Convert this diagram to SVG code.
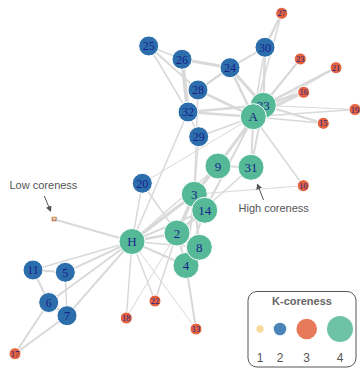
<svg xmlns="http://www.w3.org/2000/svg" width="360" height="370" viewBox="0 0 360 370">
  <style>
    .edges line { stroke: #d9d9d9; stroke-linecap: round; }
    .node circle { stroke: #ffffff; stroke-width: 1; }
    .k1 { fill: #f6d38b; }
    .k2 { fill: #2c6eab; }
    .k3 { fill: #e4633f; }
    .k4 { fill: #55b897; }
    .node text { font-family: "Liberation Serif", "Times New Roman", serif; fill: #1a1f8a; text-anchor: middle; }
    .big text { font-size: 13px; }
    .mid text { font-size: 12px; }
    .small text { font-size: 8.5px; }
    .tiny circle { stroke: none; }
    .tiny text { font-size: 6px; fill: #5a2a9a; }
    .note { font-family: "Liberation Sans", Arial, sans-serif; font-size: 11px; fill: #555555; }
    .pointer { stroke: #555555; stroke-width: 1; fill: none; marker-end: url(#tip); }
    .legend-title { font-family: "Liberation Sans", Arial, sans-serif; font-size: 11px; font-weight: bold; fill: #666666; text-anchor: middle; }
    .legend-num { font-family: "Liberation Sans", Arial, sans-serif; font-size: 12px; fill: #555555; text-anchor: middle; }
    .swatch { opacity: 0.85; }
  </style>
  <defs>
    <marker id="tip" viewBox="0 0 10 10" refX="8" refY="5" markerWidth="6" markerHeight="6" orient="auto" markerUnits="userSpaceOnUse">
      <path d="M0,0 L10,5 L0,10 z" fill="#555555"/>
    </marker>
  </defs>

  <rect width="360" height="370" fill="#ffffff"/>

  <!-- connectors, width scaled by tie strength -->
  <g id="connectors" class="edges">
    <!-- H -->
    <line x1="132" y1="241.5" x2="177" y2="233" stroke-width="2.5"/>
    <line x1="132" y1="241.5" x2="194.3" y2="194.3" stroke-width="3"/>
    <line x1="132" y1="241.5" x2="186" y2="265.5" stroke-width="2"/>
    <line x1="132" y1="241.5" x2="65.3" y2="272.3" stroke-width="2"/>
    <line x1="132" y1="241.5" x2="48.7" y2="302.5" stroke-width="2"/>
    <line x1="132" y1="241.5" x2="67" y2="315.7" stroke-width="2"/>
    <line x1="132" y1="241.5" x2="199.3" y2="247.3" stroke-width="1.5"/>
    <line x1="132" y1="241.5" x2="218" y2="166" stroke-width="1.5"/>
    <line x1="132" y1="241.5" x2="33" y2="270" stroke-width="1.5"/>
    <line x1="132" y1="241.5" x2="53.7" y2="219.3" stroke-width="2"/>
    <line x1="132" y1="241.5" x2="196" y2="329" stroke-width="1"/>
    <line x1="132" y1="241.5" x2="204.7" y2="210.3" stroke-width="2"/>
    <line x1="132" y1="241.5" x2="126.3" y2="318" stroke-width="1.5"/>
    <line x1="132" y1="241.5" x2="142.3" y2="183.3" stroke-width="1.5"/>
    <line x1="132" y1="241.5" x2="155" y2="301" stroke-width="1.5"/>
    <line x1="132" y1="241.5" x2="188" y2="112" stroke-width="1.5"/>
    <!-- 2 -->
    <line x1="177" y1="233" x2="194.3" y2="194.3" stroke-width="3.5"/>
    <line x1="177" y1="233" x2="186" y2="265.5" stroke-width="2"/>
    <line x1="177" y1="233" x2="199.3" y2="247.3" stroke-width="2.5"/>
    <line x1="177" y1="233" x2="204.7" y2="210.3" stroke-width="3"/>
    <line x1="177" y1="233" x2="126.3" y2="318" stroke-width="1"/>
    <line x1="177" y1="233" x2="142.3" y2="183.3" stroke-width="1.5"/>
    <line x1="177" y1="233" x2="155" y2="301" stroke-width="1.5"/>
    <line x1="177" y1="233" x2="251" y2="167.3" stroke-width="1.5"/>
    <!-- 3 -->
    <line x1="194.3" y1="194.3" x2="186" y2="265.5" stroke-width="2"/>
    <line x1="194.3" y1="194.3" x2="199.3" y2="247.3" stroke-width="2.5"/>
    <line x1="194.3" y1="194.3" x2="218" y2="166" stroke-width="3"/>
    <line x1="194.3" y1="194.3" x2="303.3" y2="185.7" stroke-width="1"/>
    <line x1="194.3" y1="194.3" x2="204.7" y2="210.3" stroke-width="2"/>
    <line x1="194.3" y1="194.3" x2="198" y2="90" stroke-width="1.5"/>
    <line x1="194.3" y1="194.3" x2="198.7" y2="136.7" stroke-width="1.5"/>
    <line x1="194.3" y1="194.3" x2="263.3" y2="105.3" stroke-width="1.5"/>
    <!-- 4 -->
    <line x1="186" y1="265.5" x2="199.3" y2="247.3" stroke-width="2"/>
    <line x1="186" y1="265.5" x2="196" y2="329" stroke-width="2"/>
    <line x1="186" y1="265.5" x2="204.7" y2="210.3" stroke-width="2"/>
    <!-- 5, 6, 7 -->
    <line x1="65.3" y1="272.3" x2="67" y2="315.7" stroke-width="1.5"/>
    <line x1="65.3" y1="272.3" x2="33" y2="270" stroke-width="2"/>
    <line x1="48.7" y1="302.5" x2="67" y2="315.7" stroke-width="3"/>
    <line x1="48.7" y1="302.5" x2="33" y2="270" stroke-width="2"/>
    <line x1="48.7" y1="302.5" x2="15" y2="353.7" stroke-width="2"/>
    <line x1="67" y1="315.7" x2="15" y2="353.7" stroke-width="2"/>
    <!-- 9, 10, 14 -->
    <line x1="218" y1="166" x2="251" y2="167.3" stroke-width="2"/>
    <line x1="218" y1="166" x2="263.3" y2="105.3" stroke-width="2"/>
    <line x1="218" y1="166" x2="253.3" y2="116.7" stroke-width="2.5"/>
    <line x1="303.3" y1="185.7" x2="253.3" y2="116.7" stroke-width="1.5"/>
    <line x1="204.7" y1="210.3" x2="253.3" y2="116.7" stroke-width="2"/>
    <!-- peripheral supporters of A and 33 -->
    <line x1="323.3" y1="123.3" x2="263.3" y2="105.3" stroke-width="2"/>
    <line x1="323.3" y1="123.3" x2="253.3" y2="116.7" stroke-width="1.5"/>
    <line x1="303.7" y1="92.3" x2="263.3" y2="105.3" stroke-width="2.5"/>
    <line x1="303.7" y1="92.3" x2="253.3" y2="116.7" stroke-width="3"/>
    <line x1="355" y1="109.5" x2="263.3" y2="105.3" stroke-width="1"/>
    <line x1="355" y1="109.5" x2="253.3" y2="116.7" stroke-width="1.5"/>
    <line x1="142.3" y1="183.3" x2="253.3" y2="116.7" stroke-width="1"/>
    <line x1="336" y1="67.7" x2="263.3" y2="105.3" stroke-width="2.5"/>
    <line x1="336" y1="67.7" x2="253.3" y2="116.7" stroke-width="1"/>
    <line x1="300.3" y1="59" x2="263.3" y2="105.3" stroke-width="1.5"/>
    <line x1="300.3" y1="59" x2="253.3" y2="116.7" stroke-width="2"/>
    <!-- 24 .. 33 -->
    <line x1="230" y1="67.7" x2="182" y2="59.3" stroke-width="3"/>
    <line x1="230" y1="67.7" x2="198" y2="90" stroke-width="2.5"/>
    <line x1="230" y1="67.7" x2="265" y2="47.3" stroke-width="2"/>
    <line x1="230" y1="67.7" x2="263.3" y2="105.3" stroke-width="3"/>
    <line x1="230" y1="67.7" x2="253.3" y2="116.7" stroke-width="2.5"/>
    <line x1="148.7" y1="46" x2="182" y2="59.3" stroke-width="1.5"/>
    <line x1="148.7" y1="46" x2="198" y2="90" stroke-width="2"/>
    <line x1="148.7" y1="46" x2="188" y2="112" stroke-width="1.5"/>
    <line x1="182" y1="59.3" x2="188" y2="112" stroke-width="4"/>
    <line x1="281.7" y1="13.3" x2="265" y2="47.3" stroke-width="2.5"/>
    <line x1="281.7" y1="13.3" x2="253.3" y2="116.7" stroke-width="1.5"/>
    <line x1="198" y1="90" x2="253.3" y2="116.7" stroke-width="2.5"/>
    <line x1="198.7" y1="136.7" x2="188" y2="112" stroke-width="1.5"/>
    <line x1="198.7" y1="136.7" x2="253.3" y2="116.7" stroke-width="1.5"/>
    <line x1="265" y1="47.3" x2="263.3" y2="105.3" stroke-width="2.5"/>
    <line x1="265" y1="47.3" x2="253.3" y2="116.7" stroke-width="1.5"/>
    <line x1="251" y1="167.3" x2="263.3" y2="105.3" stroke-width="2"/>
    <line x1="251" y1="167.3" x2="253.3" y2="116.7" stroke-width="2"/>
    <line x1="188" y1="112" x2="263.3" y2="105.3" stroke-width="2.5"/>
    <line x1="188" y1="112" x2="253.3" y2="116.7" stroke-width="2.5"/>
    <line x1="263.3" y1="105.3" x2="253.3" y2="116.7" stroke-width="3"/>
  </g>

  <!-- nodes -->
  <g id="node-H" class="node big"><circle class="k4" cx="132" cy="241.5" r="13"/><text x="132" y="246">H</text></g>
  <g id="node-2" class="node big"><circle class="k4" cx="177" cy="233" r="13"/><text x="177" y="237.5">2</text></g>
  <g id="node-3" class="node big"><circle class="k4" cx="194.3" cy="194.3" r="13"/><text x="194.3" y="198.8">3</text></g>
  <g id="node-4" class="node big"><circle class="k4" cx="186" cy="265.5" r="13"/><text x="186" y="270">4</text></g>
  <g id="node-5" class="node mid"><circle class="k2" cx="65.3" cy="272.3" r="10"/><text x="65.3" y="276.5">5</text></g>
  <g id="node-6" class="node mid"><circle class="k2" cx="48.7" cy="302.5" r="10"/><text x="48.7" y="306.7">6</text></g>
  <g id="node-7" class="node mid"><circle class="k2" cx="67" cy="315.7" r="10"/><text x="67" y="319.9">7</text></g>
  <g id="node-8" class="node big"><circle class="k4" cx="199.3" cy="247.3" r="13"/><text x="199.3" y="251.8">8</text></g>
  <g id="node-9" class="node big"><circle class="k4" cx="218" cy="166" r="13"/><text x="218" y="170.5">9</text></g>
  <g id="node-10" class="node small"><circle class="k3" cx="303.3" cy="185.7" r="6"/><text x="303.3" y="188.7">10</text></g>
  <g id="node-11" class="node mid"><circle class="k2" cx="33" cy="270" r="10"/><text x="33" y="274.2">11</text></g>
  <g id="node-12" class="node tiny"><circle class="k1" cx="54" cy="219" r="3"/><text x="54" y="221">12</text></g>
  <g id="node-13" class="node small"><circle class="k3" cx="196" cy="329" r="6"/><text x="196" y="332">13</text></g>
  <g id="node-14" class="node big"><circle class="k4" cx="204.7" cy="210.3" r="13"/><text x="204.7" y="214.8">14</text></g>
  <g id="node-15" class="node small"><circle class="k3" cx="323.3" cy="123.3" r="6"/><text x="323.3" y="126.3">15</text></g>
  <g id="node-16" class="node small"><circle class="k3" cx="303.7" cy="92.3" r="6"/><text x="303.7" y="95.3">16</text></g>
  <g id="node-17" class="node small"><circle class="k3" cx="15" cy="353.7" r="6"/><text x="15" y="356.7">17</text></g>
  <g id="node-18" class="node small"><circle class="k3" cx="126.3" cy="318" r="6"/><text x="126.3" y="321">18</text></g>
  <g id="node-19" class="node small"><circle class="k3" cx="355" cy="109.5" r="6"/><text x="355" y="112.5">19</text></g>
  <g id="node-20" class="node mid"><circle class="k2" cx="142.3" cy="183.3" r="10"/><text x="142.3" y="187.5">20</text></g>
  <g id="node-21" class="node small"><circle class="k3" cx="336" cy="67.7" r="6"/><text x="336" y="70.7">21</text></g>
  <g id="node-22" class="node small"><circle class="k3" cx="155" cy="301" r="6"/><text x="155" y="304">22</text></g>
  <g id="node-23" class="node small"><circle class="k3" cx="300.3" cy="59" r="6"/><text x="300.3" y="62">23</text></g>
  <g id="node-24" class="node mid"><circle class="k2" cx="230" cy="67.7" r="10"/><text x="230" y="71.9">24</text></g>
  <g id="node-25" class="node mid"><circle class="k2" cx="148.7" cy="46" r="10"/><text x="148.7" y="50.2">25</text></g>
  <g id="node-26" class="node mid"><circle class="k2" cx="182" cy="59.3" r="10"/><text x="182" y="63.5">26</text></g>
  <g id="node-27" class="node small"><circle class="k3" cx="281.7" cy="13.3" r="6"/><text x="281.7" y="16.3">27</text></g>
  <g id="node-28" class="node mid"><circle class="k2" cx="198" cy="90" r="10"/><text x="198" y="94.2">28</text></g>
  <g id="node-29" class="node mid"><circle class="k2" cx="198.7" cy="136.7" r="10"/><text x="198.7" y="140.9">29</text></g>
  <g id="node-30" class="node mid"><circle class="k2" cx="265" cy="47.3" r="10"/><text x="265" y="51.5">30</text></g>
  <g id="node-31" class="node big"><circle class="k4" cx="251" cy="167.3" r="13"/><text x="251" y="171.8">31</text></g>
  <g id="node-32" class="node mid"><circle class="k2" cx="188" cy="112" r="10"/><text x="188" y="116.2">32</text></g>
  <g id="node-33" class="node big"><circle class="k4" cx="263.3" cy="105.3" r="13"/><text x="263.3" y="109.8">33</text></g>
  <g id="node-A" class="node big"><circle class="k4" cx="253.3" cy="116.7" r="13"/><text x="253.3" y="121.2">A</text></g>

  <!-- annotations -->
  <g id="note-low">
    <text class="note" x="9.5" y="188.5">Low coreness</text>
    <line class="pointer" x1="44.3" y1="196" x2="50.5" y2="211"/>
  </g>
  <g id="note-high">
    <text class="note" x="238.5" y="212">High coreness</text>
    <line class="pointer" x1="263.5" y1="200" x2="257.5" y2="184.5"/>
  </g>

  <!-- legend -->
  <g id="legend">
    <rect x="248" y="291.5" width="108" height="75.5" rx="9" ry="9" fill="#ffffff" stroke="#555555" stroke-width="1"/>
    <text class="legend-title" x="302" y="305">K-coreness</text>
    <circle class="k1 swatch" cx="260" cy="329" r="3.7"/>
    <circle class="k2 swatch" cx="280" cy="329" r="6.3"/>
    <circle class="k3 swatch" cx="306.7" cy="329" r="10.3"/>
    <circle class="k4 swatch" cx="340" cy="329" r="13"/>
    <text class="legend-num" x="260" y="362">1</text>
    <text class="legend-num" x="280" y="362">2</text>
    <text class="legend-num" x="306.7" y="362">3</text>
    <text class="legend-num" x="340" y="362">4</text>
  </g>
</svg>
